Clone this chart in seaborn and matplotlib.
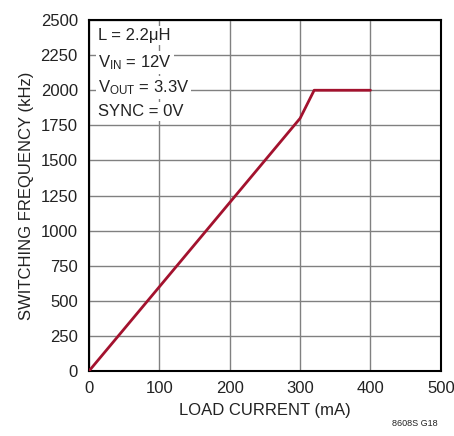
import numpy as np
import pandas as pd
import matplotlib
matplotlib.use("Agg")
import matplotlib.pyplot as plt
import seaborn as sns

# datos
load_current = [0, 300, 320, 400]      # mA
switch_freq = [0, 1800, 2000, 2000]    # kHz

x_ticks = [0, 100, 200, 300, 400, 500]
y_ticks = [0, 250, 500, 750, 1000, 1250, 1500, 1750, 2000, 2250, 2500]

conditions = ["L = 2.2\u03bcH",
              r"V$_\mathregular{IN}$ = 12V",
              r"V$_\mathregular{OUT}$ = 3.3V",
              "SYNC = 0V"]

df = pd.DataFrame({"current": load_current, "freq": switch_freq})

sns.set_style("white")
plt.rcParams['font.family'] = ['Liberation Sans Narrow', 'Liberation Sans', 'DejaVu Sans']
plt.rcParams['mathtext.default'] = 'regular'

fig = plt.figure(figsize=(4.54, 4.36), dpi=100)
ax = fig.add_axes([0.196, 0.149, 0.775, 0.805])

sns.lineplot(data=df, x="current", y="freq", ax=ax, color="#a3122e",
             linewidth=2.0, zorder=5)

ax.set_xlim(0, 500)
ax.set_ylim(0, 2500)
ax.set_xticks(x_ticks)
ax.set_yticks(y_ticks)
ax.tick_params(axis="x", length=0, labelsize=12, pad=7, colors="#222222")
ax.tick_params(axis="y", length=0, labelsize=12, pad=8, colors="#222222")
ax.grid(True, color="#808080", linewidth=1.0)
for sp in ax.spines.values():
    sp.set_color("black")
    sp.set_linewidth(1.5)

ax.set_xlabel("LOAD CURRENT (mA)", fontsize=12, color="#222222", labelpad=5)
ax.set_ylabel("SWITCHING FREQUENCY (kHz)", fontsize=12, color="#222222", labelpad=5)

# condiciones de prueba
y0 = 0.978
for i, txt in enumerate(conditions):
    ax.text(0.025, y0 - i * 0.072, txt, transform=ax.transAxes, fontsize=12,
            va="top", ha="left", color="#222222", zorder=6,
            bbox=dict(facecolor="white", edgecolor="none", pad=1.5))

fig.text(0.963, 0.018, "8608S G18", fontsize=6.5, ha="right", va="bottom",
         color="#222222")

fig.savefig("out.png", dpi=100)
